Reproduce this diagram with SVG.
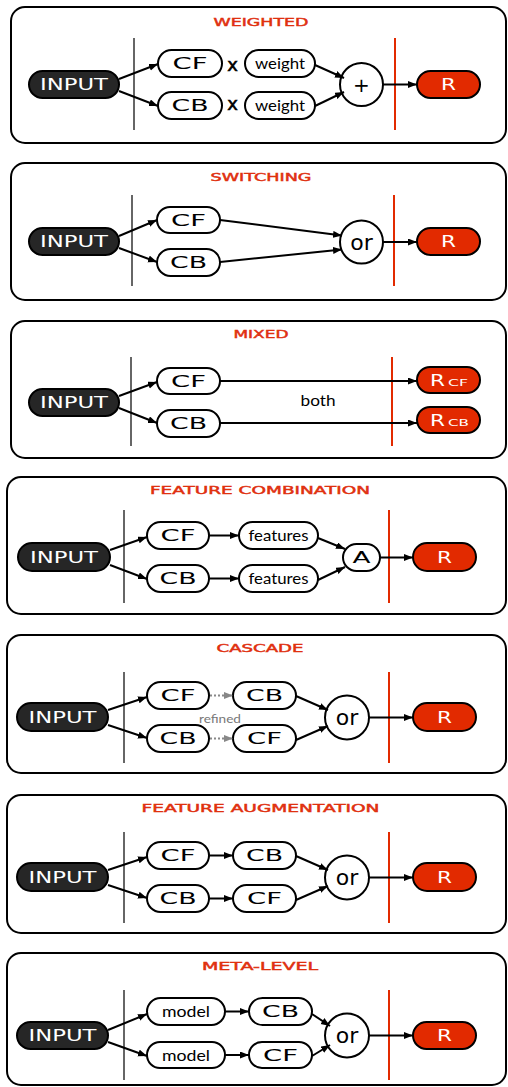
<svg xmlns="http://www.w3.org/2000/svg" width="508" height="1087" viewBox="0 0 508 1087">
<style>
.box{fill:#fff;stroke:#000;stroke-width:2}
.title{font-family:"DejaVu Sans",sans-serif;font-size:10.5px;fill:#e0300f;stroke:#e0300f;stroke-width:0.45;text-anchor:middle}
.node{fill:#fff;stroke:#000;stroke-width:2}
.in{fill:#262626;stroke:#000;stroke-width:2}
.out{fill:#e22a00;stroke:#000;stroke-width:2}
.lbl{font-family:"DejaVu Sans",sans-serif;font-size:15px;text-anchor:middle;fill:#000}
.wt{fill:#fff}
.hum{font-family:Lato,"Open Sans",sans-serif;font-size:16px;text-anchor:middle;fill:#000}
.gline{stroke:#666;stroke-width:2}
.rline{stroke:#e22a00;stroke-width:2}
.edge{stroke:#000;stroke-width:2;fill:none;marker-end:url(#ah)}
.dot{stroke:#888;stroke-width:2;stroke-dasharray:2 2;fill:none;marker-end:url(#ahg)}
.op{font-family:"DejaVu Sans",sans-serif;font-size:22px;text-anchor:middle;fill:#000}
</style>
<defs>
<marker id="ah" markerUnits="userSpaceOnUse" markerWidth="10" markerHeight="8" refX="9" refY="3.5" orient="auto"><path d="M0,0 L9,3.5 L0,7 z" fill="#000"/></marker>
<marker id="ahg" markerUnits="userSpaceOnUse" markerWidth="10" markerHeight="8" refX="9" refY="3.5" orient="auto"><path d="M0,0 L9,3.5 L0,7 z" fill="#888"/></marker>
</defs>

<!-- Panel 1: WEIGHTED -->
<g id="panel-weighted">
<rect class="box" x="11" y="7" width="495" height="136" rx="14"/>
<text class="title" x="261" y="26" textLength="95" lengthAdjust="spacingAndGlyphs">WEIGHTED</text>
<line class="gline" x1="134" y1="38" x2="134" y2="130"/>
<line class="rline" x1="395" y1="38" x2="395" y2="130"/>
</g>
<g id="w-input"><rect class="in" x="29" y="71" width="90" height="27" rx="13.5"/><text class="lbl wt" x="74" y="90" textLength="68" lengthAdjust="spacingAndGlyphs">INPUT</text></g>
<g id="w-cf"><rect class="node" x="158" y="50" width="64" height="27" rx="13.5"/><text class="lbl" x="190" y="69" textLength="35" lengthAdjust="spacingAndGlyphs">CF</text></g>
<g id="w-cb"><rect class="node" x="158" y="92" width="64" height="27" rx="13.5"/><text class="lbl" x="190" y="111" textLength="37" lengthAdjust="spacingAndGlyphs">CB</text></g>
<g id="w-x"><text class="lbl" x="232.5" y="71" style="font-size:18px;stroke:#000;stroke-width:0.6">x</text><text class="lbl" x="232.5" y="110" style="font-size:18px;stroke:#000;stroke-width:0.6">x</text></g>
<g id="w-weight1"><rect class="node" x="245" y="50" width="70" height="27" rx="13.5"/><text class="hum" x="280" y="68.5" textLength="50" lengthAdjust="spacingAndGlyphs">weight</text></g>
<g id="w-weight2"><rect class="node" x="245" y="92" width="70" height="27" rx="13.5"/><text class="hum" x="280" y="110.5" textLength="50" lengthAdjust="spacingAndGlyphs">weight</text></g>
<g id="w-plus"><circle class="node" cx="361.5" cy="84.5" r="21.5"/><text class="op" x="361.5" y="92" style="font-size:20px">+</text></g>
<g id="w-r"><rect class="out" x="417" y="71" width="63" height="27" rx="13.5"/><text class="lbl wt" x="448.5" y="90" textLength="15" lengthAdjust="spacingAndGlyphs">R</text></g>

<!-- Panel 2: SWITCHING -->
<g id="panel-switching">
<rect class="box" x="11" y="163" width="495" height="137" rx="14"/>
<text class="title" x="261" y="181" textLength="101" lengthAdjust="spacingAndGlyphs">SWITCHING</text>
<line class="gline" x1="132" y1="195" x2="132" y2="286"/>
<line class="rline" x1="394" y1="195" x2="394" y2="286"/>
</g>
<g id="s-input"><rect class="in" x="29" y="228" width="90" height="27" rx="13.5"/><text class="lbl wt" x="74" y="247" textLength="68" lengthAdjust="spacingAndGlyphs">INPUT</text></g>
<g id="s-cf"><rect class="node" x="157" y="207" width="63" height="26" rx="13"/><text class="lbl" x="188.5" y="225.5" textLength="35" lengthAdjust="spacingAndGlyphs">CF</text></g>
<g id="s-cb"><rect class="node" x="157" y="249" width="63" height="27" rx="13.5"/><text class="lbl" x="188.5" y="268" textLength="37" lengthAdjust="spacingAndGlyphs">CB</text></g>
<g id="s-or"><circle class="node" cx="361.5" cy="242" r="21.5"/><text class="op" x="361.5" y="249.5">or</text></g>
<g id="s-r"><rect class="out" x="417" y="228" width="63" height="27" rx="13.5"/><text class="lbl wt" x="448.5" y="247" textLength="15" lengthAdjust="spacingAndGlyphs">R</text></g>

<!-- Panel 3: MIXED -->
<g id="panel-mixed">
<rect class="box" x="11" y="321" width="495" height="137" rx="14"/>
<text class="title" x="261" y="338" textLength="55" lengthAdjust="spacingAndGlyphs">MIXED</text>
<line class="gline" x1="131" y1="357" x2="131" y2="446"/>
<line class="rline" x1="392" y1="357" x2="392" y2="446"/>
<text class="hum" x="318" y="406" textLength="35" lengthAdjust="spacingAndGlyphs">both</text>
</g>
<g id="m-input"><rect class="in" x="29" y="389" width="90" height="27" rx="13.5"/><text class="lbl wt" x="74" y="408" textLength="68" lengthAdjust="spacingAndGlyphs">INPUT</text></g>
<g id="m-cf"><rect class="node" x="157" y="368" width="63" height="26" rx="13"/><text class="lbl" x="188.5" y="386.5" textLength="35" lengthAdjust="spacingAndGlyphs">CF</text></g>
<g id="m-cb"><rect class="node" x="157" y="410" width="63" height="27" rx="13.5"/><text class="lbl" x="188.5" y="429" textLength="37" lengthAdjust="spacingAndGlyphs">CB</text></g>
<g id="m-rcf"><rect class="out" x="417" y="367" width="63" height="26" rx="13"/><text class="lbl wt" x="437.5" y="385.5" textLength="15" lengthAdjust="spacingAndGlyphs">R</text><text class="lbl wt" x="458" y="385.5" style="font-size:9px" textLength="20" lengthAdjust="spacingAndGlyphs">CF</text></g>
<g id="m-rcb"><rect class="out" x="417" y="407" width="63" height="26" rx="13"/><text class="lbl wt" x="437.5" y="425.5" textLength="15" lengthAdjust="spacingAndGlyphs">R</text><text class="lbl wt" x="458.5" y="425.5" style="font-size:9px" textLength="21" lengthAdjust="spacingAndGlyphs">CB</text></g>

<!-- Panel 4: FEATURE COMBINATION -->
<g id="panel-featcomb">
<rect class="box" x="7" y="477" width="499" height="137" rx="14"/>
<text class="title" x="260" y="494" textLength="220" lengthAdjust="spacingAndGlyphs">FEATURE COMBINATION</text>
<line class="gline" x1="124" y1="510" x2="124" y2="603"/>
<line class="rline" x1="389" y1="510" x2="389" y2="603"/>
</g>
<g id="fc-input"><rect class="in" x="18" y="543" width="92" height="28" rx="14"/><text class="lbl wt" x="64" y="563" textLength="68" lengthAdjust="spacingAndGlyphs">INPUT</text></g>
<g id="fc-cf"><rect class="node" x="147" y="522" width="62" height="27" rx="13.5"/><text class="lbl" x="178" y="541" textLength="35" lengthAdjust="spacingAndGlyphs">CF</text></g>
<g id="fc-cb"><rect class="node" x="147" y="565" width="62" height="27" rx="13.5"/><text class="lbl" x="178" y="584" textLength="37" lengthAdjust="spacingAndGlyphs">CB</text></g>
<g id="fc-feat1"><rect class="node" x="239" y="522" width="79" height="27" rx="13.5"/><text class="hum" x="278.5" y="540.5" textLength="60" lengthAdjust="spacingAndGlyphs">features</text></g>
<g id="fc-feat2"><rect class="node" x="239" y="565" width="79" height="27" rx="13.5"/><text class="hum" x="278.5" y="583.5" textLength="60" lengthAdjust="spacingAndGlyphs">features</text></g>
<g id="fc-a"><rect class="node" x="343" y="544" width="37" height="27" rx="13.5"/><text class="lbl" x="361.5" y="563" textLength="18" lengthAdjust="spacingAndGlyphs">A</text></g>
<g id="fc-r"><rect class="out" x="413" y="543" width="63" height="28" rx="14"/><text class="lbl wt" x="444.5" y="563" textLength="15" lengthAdjust="spacingAndGlyphs">R</text></g>

<!-- Panel 5: CASCADE -->
<g id="panel-cascade">
<rect class="box" x="7" y="635" width="499" height="138" rx="14"/>
<text class="title" x="260" y="652" textLength="87" lengthAdjust="spacingAndGlyphs">CASCADE</text>
<line class="gline" x1="124" y1="672" x2="124" y2="763"/>
<line class="rline" x1="389" y1="672" x2="389" y2="763"/>
<text class="hum" x="220" y="723" style="font-size:12px;fill:#777" textLength="42" lengthAdjust="spacingAndGlyphs">refined</text>
</g>
<g id="c-input"><rect class="in" x="17" y="703" width="91" height="28" rx="14"/><text class="lbl wt" x="62.5" y="723" textLength="68" lengthAdjust="spacingAndGlyphs">INPUT</text></g>
<g id="c-cf1"><rect class="node" x="147" y="682" width="62" height="27" rx="13.5"/><text class="lbl" x="178" y="701" textLength="35" lengthAdjust="spacingAndGlyphs">CF</text></g>
<g id="c-cb1"><rect class="node" x="233" y="682" width="63" height="27" rx="13.5"/><text class="lbl" x="264.5" y="701" textLength="37" lengthAdjust="spacingAndGlyphs">CB</text></g>
<g id="c-cb2"><rect class="node" x="147" y="725" width="62" height="27" rx="13.5"/><text class="lbl" x="178" y="744" textLength="37" lengthAdjust="spacingAndGlyphs">CB</text></g>
<g id="c-cf2"><rect class="node" x="233" y="725" width="63" height="27" rx="13.5"/><text class="lbl" x="264.5" y="744" textLength="35" lengthAdjust="spacingAndGlyphs">CF</text></g>
<g id="c-or"><circle class="node" cx="347" cy="717.5" r="22"/><text class="op" x="347" y="725">or</text></g>
<g id="c-r"><rect class="out" x="413" y="703" width="63" height="28" rx="14"/><text class="lbl wt" x="444.5" y="723" textLength="15" lengthAdjust="spacingAndGlyphs">R</text></g>

<!-- Panel 6: FEATURE AUGMENTATION -->
<g id="panel-feataug">
<rect class="box" x="7" y="795" width="499" height="138" rx="14"/>
<text class="title" x="260.5" y="811.5" textLength="238" lengthAdjust="spacingAndGlyphs">FEATURE AUGMENTATION</text>
<line class="gline" x1="124" y1="832" x2="124" y2="923"/>
<line class="rline" x1="389" y1="832" x2="389" y2="923"/>
</g>
<g id="fa-input"><rect class="in" x="17" y="863" width="91" height="28" rx="14"/><text class="lbl wt" x="62.5" y="883" textLength="68" lengthAdjust="spacingAndGlyphs">INPUT</text></g>
<g id="fa-cf1"><rect class="node" x="147" y="842" width="62" height="27" rx="13.5"/><text class="lbl" x="178" y="861" textLength="35" lengthAdjust="spacingAndGlyphs">CF</text></g>
<g id="fa-cb1"><rect class="node" x="233" y="842" width="63" height="27" rx="13.5"/><text class="lbl" x="264.5" y="861" textLength="37" lengthAdjust="spacingAndGlyphs">CB</text></g>
<g id="fa-cb2"><rect class="node" x="147" y="885" width="62" height="27" rx="13.5"/><text class="lbl" x="178" y="904" textLength="37" lengthAdjust="spacingAndGlyphs">CB</text></g>
<g id="fa-cf2"><rect class="node" x="233" y="885" width="63" height="27" rx="13.5"/><text class="lbl" x="264.5" y="904" textLength="35" lengthAdjust="spacingAndGlyphs">CF</text></g>
<g id="fa-or"><circle class="node" cx="347" cy="877.5" r="22"/><text class="op" x="347" y="885">or</text></g>
<g id="fa-r"><rect class="out" x="413" y="863" width="63" height="28" rx="14"/><text class="lbl wt" x="444.5" y="883" textLength="15" lengthAdjust="spacingAndGlyphs">R</text></g>

<!-- Panel 7: META-LEVEL -->
<g id="panel-meta">
<rect class="box" x="7" y="953" width="499" height="132" rx="14"/>
<text class="title" x="260" y="970" textLength="116" lengthAdjust="spacingAndGlyphs">META-LEVEL</text>
<line class="gline" x1="124" y1="990" x2="124" y2="1080"/>
<line class="rline" x1="389" y1="990" x2="389" y2="1080"/>
</g>
<g id="ml-input"><rect class="in" x="17" y="1022" width="91" height="27" rx="13.5"/><text class="lbl wt" x="62.5" y="1041" textLength="68" lengthAdjust="spacingAndGlyphs">INPUT</text></g>
<g id="ml-model1"><rect class="node" x="147" y="998" width="78" height="27" rx="13.5"/><text class="hum" x="186" y="1016.5" textLength="48" lengthAdjust="spacingAndGlyphs">model</text></g>
<g id="ml-cb"><rect class="node" x="249" y="998" width="63" height="27" rx="13.5"/><text class="lbl" x="280.5" y="1017" textLength="37" lengthAdjust="spacingAndGlyphs">CB</text></g>
<g id="ml-model2"><rect class="node" x="147" y="1042" width="78" height="26" rx="13"/><text class="hum" x="186" y="1060.5" textLength="48" lengthAdjust="spacingAndGlyphs">model</text></g>
<g id="ml-cf"><rect class="node" x="249" y="1042" width="63" height="26" rx="13"/><text class="lbl" x="280.5" y="1060.5" textLength="35" lengthAdjust="spacingAndGlyphs">CF</text></g>
<g id="ml-or"><circle class="node" cx="347" cy="1035.5" r="22"/><text class="op" x="347" y="1043">or</text></g>
<g id="ml-r"><rect class="out" x="413" y="1022" width="63" height="27" rx="13.5"/><text class="lbl wt" x="444.5" y="1041" textLength="15" lengthAdjust="spacingAndGlyphs">R</text></g>

<!-- Connectors -->
<g id="connectors">
<path class="edge" d="M119,79 L158,64"/>
<path class="edge" d="M119,91 L158,106"/>
<path class="edge" d="M315,65 L344,78"/>
<path class="edge" d="M315,106 L344,92"/>
<path class="edge" d="M383,84.5 L417,84.5"/>

<path class="edge" d="M119,236 L157,220"/>
<path class="edge" d="M119,248 L157,262"/>
<path class="edge" d="M220,220 L342,235.5"/>
<path class="edge" d="M220,262 L342,249.5"/>
<path class="edge" d="M383,242 L417,242"/>

<path class="edge" d="M119,396 L157,382"/>
<path class="edge" d="M119,408 L157,423"/>
<path class="edge" d="M220,381 L417,381"/>
<path class="edge" d="M220,423 L417,423"/>

<path class="edge" d="M110,550 L147,537"/>
<path class="edge" d="M110,565 L147,579"/>
<path class="edge" d="M209,535.5 L239,535.5"/>
<path class="edge" d="M209,578.5 L239,578.5"/>
<path class="edge" d="M318,538 L345,549"/>
<path class="edge" d="M318,580 L345,567"/>
<path class="edge" d="M380,557.5 L413,557.5"/>

<path class="edge" d="M108,710 L147,697"/>
<path class="edge" d="M108,725 L147,738"/>
<path class="dot" d="M210,695.5 L233,695.5"/>
<path class="dot" d="M210,738.5 L233,738.5"/>
<path class="edge" d="M296,696 L328,710"/>
<path class="edge" d="M296,740 L328,726"/>
<path class="edge" d="M369,717.5 L413,717.5"/>

<path class="edge" d="M108,870 L147,857"/>
<path class="edge" d="M108,885 L147,898"/>
<path class="edge" d="M209,855.5 L233,855.5"/>
<path class="edge" d="M209,898.5 L233,898.5"/>
<path class="edge" d="M296,856 L328,870"/>
<path class="edge" d="M296,900 L328,886"/>
<path class="edge" d="M369,877.5 L413,877.5"/>

<path class="edge" d="M108,1030 L147,1014"/>
<path class="edge" d="M108,1042 L147,1056"/>
<path class="edge" d="M225,1011.5 L249,1011.5"/>
<path class="edge" d="M225,1055 L249,1055"/>
<path class="edge" d="M312,1014 L330,1026"/>
<path class="edge" d="M312,1056 L330,1045"/>
<path class="edge" d="M369,1035.5 L413,1035.5"/>
</g>
</svg>
